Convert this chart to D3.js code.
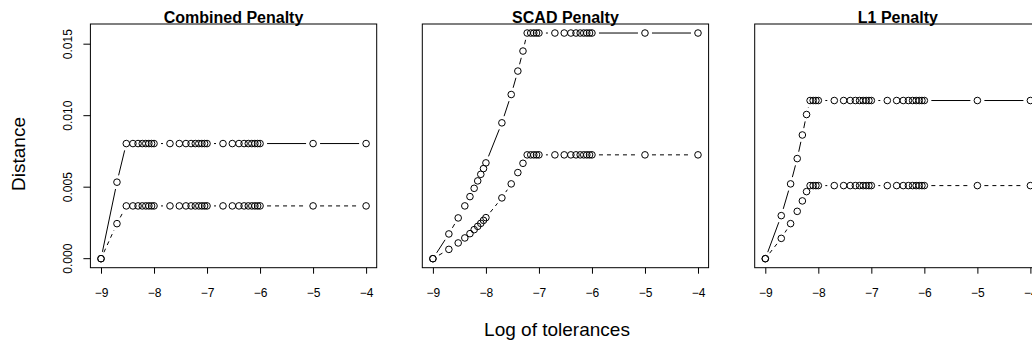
<!DOCTYPE html>
<html>
<head>
<meta charset="utf-8">
<script src="https://cdn.jsdelivr.net/npm/d3@7/dist/d3.min.js"></script>
<style>
html, body { margin: 0; padding: 0; background: #fff; }
svg { display: block; font-family: "Liberation Sans", Arial, Helvetica, sans-serif; }
</style>
</head>
<body>
<svg id="chart" width="1032" height="347"></svg>
<script>
// ---- data ----
const tolerances = [
  1e-9, 2e-9, 3e-9, 4e-9, 5e-9, 6e-9, 7e-9, 8e-9, 9e-9,
  1e-8, 2e-8, 3e-8, 4e-8, 5e-8, 6e-8, 7e-8, 8e-8, 9e-8,
  1e-7, 2e-7, 3e-7, 4e-7, 5e-7, 6e-7, 7e-7, 8e-7, 9e-7,
  1e-6, 1e-5, 1e-4
];
const panelTitles = ["Combined Penalty", "SCAD Penalty", "L1 Penalty"];

const combinedSolid = [0, 0.00535,
  0.00805, 0.00805, 0.00805, 0.00805, 0.00805, 0.00805, 0.00805, 0.00805,
  0.00805, 0.00805, 0.00805, 0.00805, 0.00805, 0.00805, 0.00805, 0.00805, 0.00805,
  0.00805, 0.00805, 0.00805, 0.00805, 0.00805, 0.00805, 0.00805, 0.00805, 0.00805,
  0.00805, 0.00805];
const combinedDashed = [0, 0.00245,
  0.00369, 0.00369, 0.00369, 0.00369, 0.00369, 0.00369, 0.00369, 0.00369,
  0.00369, 0.00369, 0.00369, 0.00369, 0.00369, 0.00369, 0.00369, 0.00369, 0.00369,
  0.00369, 0.00369, 0.00369, 0.00369, 0.00369, 0.00369, 0.00369, 0.00369, 0.00369,
  0.00369, 0.00369];

const scadSolid = [0, 0.00173, 0.00285, 0.00369, 0.00434, 0.00492, 0.00544, 0.0059, 0.0063,
  0.0067, 0.0095, 0.01148, 0.01312, 0.01452,
  0.01578, 0.01578, 0.01578, 0.01578, 0.01578, 0.01578, 0.01578, 0.01578, 0.01578,
  0.01578, 0.01578, 0.01578, 0.01578, 0.01578, 0.01578, 0.01578];
const scadDashed = [0, 0.00065, 0.0011, 0.00145, 0.00175, 0.00203, 0.00226, 0.00247, 0.00268,
  0.00287, 0.00425, 0.00523, 0.00602, 0.00667,
  0.00726, 0.00726, 0.00726, 0.00726, 0.00726, 0.00726, 0.00726, 0.00726, 0.00726,
  0.00726, 0.00726, 0.00726, 0.00726, 0.00726, 0.00726, 0.00726];

const l1Solid = [0, 0.00301, 0.00523, 0.007, 0.00865, 0.01008,
  0.01106, 0.01106, 0.01106, 0.01106, 0.01106, 0.01106, 0.01106, 0.01106, 0.01106,
  0.01106, 0.01106, 0.01106, 0.01106, 0.01106, 0.01106, 0.01106, 0.01106, 0.01106,
  0.01106, 0.01106, 0.01106, 0.01106, 0.01106, 0.01106];
const l1Dashed = [0, 0.00142, 0.00245, 0.00331, 0.00404, 0.00469,
  0.00511, 0.00511, 0.00511, 0.00511, 0.00511, 0.00511, 0.00511, 0.00511, 0.00511,
  0.00511, 0.00511, 0.00511, 0.00511, 0.00511, 0.00511, 0.00511, 0.00511, 0.00511,
  0.00511, 0.00511, 0.00511, 0.00511, 0.00511, 0.00511];

const xTicks = [-9, -8, -7, -6, -5, -4];
const yTicks = [0, 0.005, 0.010, 0.015];
const yTickLabels = ["0.000", "0.005", "0.010", "0.015"];
const xLabel = "Log of tolerances";
const yLabel = "Distance";

// ---- layout ----
const panels = [
  { title: panelTitles[0], solid: combinedSolid, dashed: combinedDashed, left: 90.4, yaxis: true },
  { title: panelTitles[1], solid: scadSolid, dashed: scadDashed, left: 422.3, yaxis: false },
  { title: panelTitles[2], solid: l1Solid, dashed: l1Dashed, left: 754.7, yaxis: false }
];
const plotW = 286.3, plotTop = 24, plotBottom = 267.7;
const gap = 7, radius = 3.3;

const logTol = tolerances.map(t => Math.log10(t));
const xmin = d3.min(logTol), xmax = d3.max(logTol);
const xpad = (xmax - xmin) * 0.04;
const allY = [].concat(combinedSolid, combinedDashed, scadSolid, scadDashed, l1Solid, l1Dashed);
const ymax = d3.max(allY), ymin = 0;
const ypad = (ymax - ymin) * 0.04;

const svg = d3.select("#chart");
svg.append("rect").attr("width", 1032).attr("height", 347).attr("fill", "#fff");

const y = d3.scaleLinear().domain([ymin - ypad, ymax + ypad]).range([plotBottom, plotTop]);

function drawSeries(g, x, vals, dashed) {
  const pts = vals.map((v, i) => [x(logTol[i]), y(v)]);
  const segs = [];
  for (let i = 0; i < pts.length - 1; i++) {
    const [x0, y0] = pts[i], [x1, y1] = pts[i + 1];
    const dx = x1 - x0, dy = y1 - y0;
    const d = Math.sqrt(dx * dx + dy * dy);
    if (d > 2 * gap) {
      const f = gap / d;
      segs.push([x0 + f * dx, y0 + f * dy, x1 - f * dx, y1 - f * dy]);
    }
  }
  g.selectAll(null).data(segs).enter().append("line")
    .attr("x1", s => s[0]).attr("y1", s => s[1])
    .attr("x2", s => s[2]).attr("y2", s => s[3])
    .attr("stroke", "#000").attr("stroke-width", 1)
    .attr("stroke-dasharray", dashed ? "4,4" : null);
  g.selectAll(null).data(pts).enter().append("circle")
    .attr("cx", p => p[0]).attr("cy", p => p[1]).attr("r", radius)
    .attr("fill", "none").attr("stroke", "#000").attr("stroke-width", 1);
}

panels.forEach(p => {
  const x = d3.scaleLinear().domain([xmin - xpad, xmax + xpad]).range([p.left, p.left + plotW]);
  const g = svg.append("g");

  // x axis
  const xa = g.append("g").attr("transform", `translate(0,${plotBottom})`)
    .call(d3.axisBottom(x).tickValues(xTicks).tickSizeOuter(0).tickSize(6).tickPadding(15)
      .tickFormat(d3.format("d")));
  xa.select(".domain").remove();
  xa.selectAll("line").attr("stroke", "#000");
  xa.selectAll("text").attr("font-size", 12).attr("fill", "#000")
    .attr("font-family", "Liberation Sans, Arial, sans-serif");

  if (p.yaxis) {
    const ya = g.append("g").attr("transform", `translate(${p.left},0)`)
      .call(d3.axisLeft(y).tickValues(yTicks).tickSizeOuter(0).tickSize(7)
        .tickFormat((d, i) => yTickLabels[i]));
    ya.select(".domain").remove();
    ya.selectAll("line").attr("stroke", "#000");
    ya.selectAll("text")
      .attr("font-size", 12).attr("fill", "#000")
      .attr("font-family", "Liberation Sans, Arial, sans-serif")
      .attr("text-anchor", "middle")
      .attr("x", null).attr("dy", null)
      .attr("transform", d => `translate(${-18.5},${y(d)}) rotate(-90)`)
      .attr("y", 0);
    ya.selectAll(".tick").attr("transform", null);
    ya.selectAll(".tick line").attr("transform", d => `translate(0,${y(d)})`);
  }

  // box
  g.append("rect").attr("x", p.left).attr("y", plotTop)
    .attr("width", plotW).attr("height", plotBottom - plotTop)
    .attr("fill", "none").attr("stroke", "#000").attr("stroke-width", 1);

  // title
  g.append("text").attr("x", p.left + plotW / 2).attr("y", 23)
    .attr("text-anchor", "middle").attr("font-weight", "bold").attr("font-size", 16)
    .text(p.title);

  drawSeries(g, x, p.solid, false);
  drawSeries(g, x, p.dashed, true);
});

// outer labels
svg.append("text").attr("x", 557).attr("y", 336)
  .attr("text-anchor", "middle").attr("font-size", 19).text(xLabel);
svg.append("text").attr("transform", "translate(25,154) rotate(-90)")
  .attr("text-anchor", "middle").attr("font-size", 19).text(yLabel);
</script>
</body>
</html>
